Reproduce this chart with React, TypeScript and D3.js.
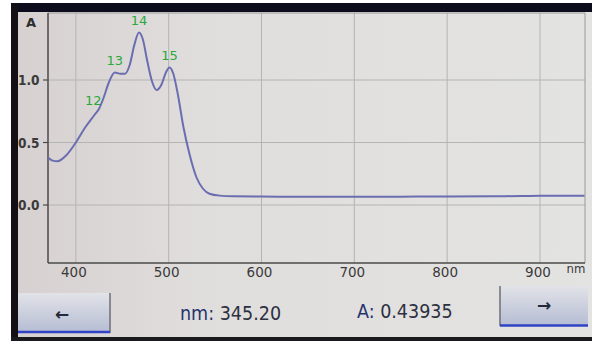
import React from "react";
import * as d3 from "d3";

const W = 592;
const H = 341;

const wavelengths = [370, 375, 380, 390, 400, 410, 420, 425, 430, 435, 442, 448, 453, 458, 463, 468, 472, 477, 482, 487, 492, 497, 501, 505, 510, 516, 522, 530, 537, 544, 555, 570, 600, 650, 700, 750, 800, 850, 880, 900, 948];
const absorbance = [0.38, 0.355, 0.35, 0.4, 0.5, 0.62, 0.72, 0.77, 0.86, 0.97, 1.06, 1.05, 1.05, 1.12, 1.28, 1.38, 1.33, 1.15, 0.99, 0.92, 0.96, 1.06, 1.1, 1.05, 0.88, 0.62, 0.42, 0.22, 0.13, 0.09, 0.075, 0.07, 0.068, 0.066, 0.066, 0.067, 0.068, 0.07, 0.072, 0.074, 0.075];

const peakLabels = ["12", "13", "14", "15"];
const peakWl = [423, 442, 468, 501];
const peakA = [0.74, 1.06, 1.38, 1.1];

const xTicks = [400, 500, 600, 700, 800, 900];
const yTicks = [0.0, 0.5, 1.0];

const cursorNm = "345.20";
const cursorA = "0.43935";

export default function App() {
  const left = 48, right = 585, top = 13, bottom = 263;
  const x = d3.scaleLinear().domain([370, 948.5]).range([left, right]);
  const y = d3.scaleLinear().domain([-0.464, 1.536]).range([bottom, top]);
  const pts = wavelengths.map((w, i) => [w, absorbance[i]] as [number, number]);
  const line = d3
    .line<[number, number]>()
    .x((d) => x(d[0]))
    .y((d) => y(d[1]))
    .curve(d3.curveMonotoneX);

  const font = "'DejaVu Sans', sans-serif";
  const condensed = "'DejaVu Sans Condensed', 'DejaVu Sans', sans-serif";

  return (
    <div style={{ position: "fixed", left: 0, top: 0, width: W, height: H }}>
      <svg width={W} height={H} style={{ display: "block" }}>
        <defs>
          <linearGradient id="scr" x1="0" x2="1" y1="0" y2="0">
            <stop offset="0" stopColor="#d6cfcf" />
            <stop offset="0.35" stopColor="#e0dedd" />
            <stop offset="1" stopColor="#e3e3e2" />
          </linearGradient>
          <linearGradient id="btn" x1="0" x2="0" y1="0" y2="1">
            <stop offset="0" stopColor="#e2e3e8" />
            <stop offset="1" stopColor="#b5bcd3" />
          </linearGradient>
        </defs>
        <rect x={0} y={0} width={W} height={H} fill="url(#scr)" />
        {/* photo frame */}
        <rect x={0} y={0} width={11} height={H} fill="#ffffff" />
        <rect x={11} y={0} width={W - 11} height={3} fill="#ffffff" />
        <rect x={11} y={3} width={W - 11} height={9} fill="#0c0c1c" />
        <rect x={11} y={3} width={7} height={H - 3} fill="#121014" />
        <rect x={11} y={337} width={W - 11} height={4} fill="#1a1a1e" />

        {/* grid */}
        {xTicks.map((t) => (
          <line key={"gx" + t} x1={x(t)} x2={x(t)} y1={top} y2={bottom} stroke="#b4b4b4" strokeWidth={1} />
        ))}
        {yTicks.map((t) => (
          <line key={"gy" + t} x1={left} x2={right} y1={y(t)} y2={y(t)} stroke="#b4b4b4" strokeWidth={1} />
        ))}
        {/* frame of plot */}
        <line x1={left} x2={right} y1={top} y2={top} stroke="#9a9a9a" strokeWidth={1} />
        <line x1={right} x2={right} y1={top} y2={bottom} stroke="#9a9a9a" strokeWidth={1} />
        <line x1={left} x2={left} y1={top} y2={bottom} stroke="#4a4a4a" strokeWidth={1.5} />
        <line x1={left} x2={right} y1={bottom} y2={bottom} stroke="#4a4a4a" strokeWidth={1.5} />

        {/* y ticks */}
        {yTicks.map((t) => (
          <g key={"ty" + t}>
            <line x1={left - 5} x2={left} y1={y(t)} y2={y(t)} stroke="#4a4a4a" strokeWidth={1.2} />
            <text x={18} y={y(t) + 5} fontFamily={condensed} fontWeight="bold" fontSize={13.5} fill="#3a3a3a">
              {t.toFixed(1)}
            </text>
          </g>
        ))}
        <text x={31} y={27} textAnchor="middle" fontFamily={font} fontWeight="bold" fontSize={13} fill="#2e2e2e">
          A
        </text>

        {/* x ticks */}
        {xTicks.map((t) => (
          <text key={"tx" + t} x={x(t) - 2} y={277} textAnchor="middle" fontFamily={font} fontSize={13.5} fill="#3a3a3a">
            {t}
          </text>
        ))}
        <text x={576} y={273} textAnchor="middle" fontFamily={condensed} fontSize={13} fill="#3a3a3a">
          nm
        </text>

        {/* spectrum */}
        <path d={line(pts) || ""} fill="none" stroke="#6a6db0" strokeWidth={2} />

        {/* peak labels */}
        {peakLabels.map((lab, i) => (
          <text
            key={lab}
            x={x(peakWl[i]) - (i === 0 ? 4 : 0)}
            y={y(peakA[i]) - 8}
            textAnchor="middle"
            fontFamily={font}
            fontSize={13}
            fill="#2aa83a"
          >
            {lab}
          </text>
        ))}

        {/* left button */}
        <rect x={18} y={293} width={92} height={40} fill="url(#btn)" />
        <line x1={110} x2={110} y1={293} y2={333} stroke="#6e6e78" strokeWidth={1.5} />
        <line x1={18} x2={110} y1={332} y2={332} stroke="#2f43c4" strokeWidth={2.5} />
        <text x={62} y={320} textAnchor="middle" fontFamily={font} fontWeight="bold" fontSize={17} fill="#222a3a">
          ←
        </text>

        {/* right button */}
        <rect x={500} y={286} width={88} height={40} fill="url(#btn)" />
        <line x1={500} x2={500} y1={286} y2={326} stroke="#6e6e78" strokeWidth={1.5} />
        <line x1={500} x2={588} y1={325.5} y2={325.5} stroke="#2f43c4" strokeWidth={2.5} />
        <text x={544} y={311} textAnchor="middle" fontFamily={font} fontWeight="bold" fontSize={17} fill="#222a3a">
          →
        </text>

        {/* readouts */}
        <text x={180} y={320} fontFamily={condensed} fontSize={19.5} fill="#26346e">
          nm: <tspan fill="#2c3040">{cursorNm}</tspan>
        </text>
        <text x={357} y={318} fontFamily={condensed} fontSize={19.5} fill="#26346e">
          A: <tspan fill="#2c3040">{cursorA}</tspan>
        </text>
      </svg>
    </div>
  );
}
